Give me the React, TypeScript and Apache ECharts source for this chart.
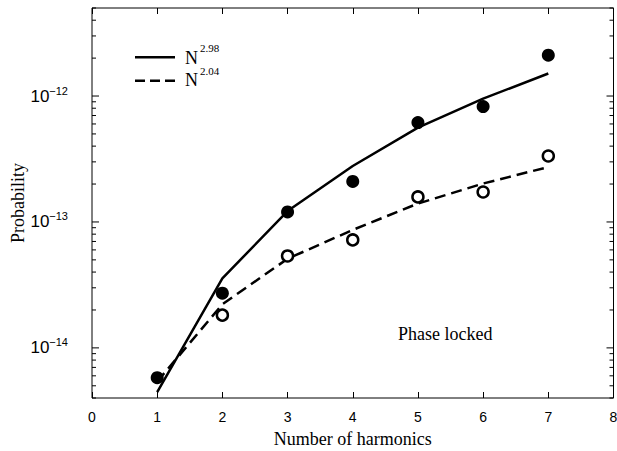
import React, { useEffect, useRef } from "react";
import * as echarts from "echarts";

// ---- data ----
const harmonics = [1, 2, 3, 4, 5, 6, 7];
const filledProb = [5.8e-15, 2.72e-14, 1.2e-13, 2.1e-13, 6.15e-13, 8.24e-13, 2.11e-12];
const openHarmonics = [2, 3, 4, 5, 6, 7];
const openProb = [1.82e-14, 5.37e-14, 7.2e-14, 1.58e-13, 1.73e-13, 3.34e-13];
const fitSolid = [4.45e-15, 3.56e-14, 1.22e-13, 2.78e-13, 5.61e-13, 9.53e-13, 1.51e-12];
const fitDashed = [5.4e-15, 2.22e-14, 5.1e-14, 8.65e-14, 1.4e-13, 2.02e-13, 2.73e-13];
const legendExponents = ["2.98", "2.04"];
const xMin = 0;
const xMax = 8;
const yMin = 4e-15;
const yMax = 5e-12;
const yDecades = [-15, -14, -13, -12];
const yMantissas = [1, 2, 3, 4, 5, 6, 7, 8, 9];

const SERIF = "'Liberation Serif', 'DejaVu Serif', serif";
const SANS = "'Liberation Sans', Arial, sans-serif";

function buildYTicks() {
  const out: number[][] = [];
  for (const d of yDecades) {
    for (const m of yMantissas) {
      const v = m * Math.pow(10, d);
      if (v >= yMin * 0.999 && v <= yMax * 1.001) out.push([xMin, v, m === 1 ? 1 : 0]);
    }
  }
  return out;
}

function isPow10(v: number) {
  const l = Math.log10(v);
  return Math.abs(l - Math.round(l)) < 1e-6;
}

export default function App() {
  const ref = useRef<HTMLDivElement>(null);
  useEffect(() => {
    if (!ref.current) return;
    const chart = echarts.init(ref.current, null, { renderer: "svg" });
    const option: any = {
      animation: false,
      backgroundColor: "#fff",
      grid: {
        left: 92,
        right: 3.5,
        top: 8,
        bottom: 53,
        containLabel: false,
        outerBoundsMode: "none",
        show: true,
        borderColor: "#000",
        borderWidth: 1,
        backgroundColor: "transparent",
      },
      xAxis: [
        {
          type: "value",
          min: xMin,
          max: xMax,
          interval: 1,
          position: "bottom",
          axisLine: { show: false },
          axisTick: { show: true, inside: true, length: 6, lineStyle: { color: "#000", width: 1 } },
          splitLine: { show: false },
          axisLabel: { color: "#000", fontFamily: SANS, fontSize: 14, margin: 12 },
          name: "Number of harmonics",
          nameLocation: "middle",
          nameGap: 32,
          nameMoveOverlap: false,
          nameTextStyle: { color: "#000", fontFamily: SERIF, fontSize: 18 },
        },
        {
          type: "value",
          min: xMin,
          max: xMax,
          interval: 1,
          position: "top",
          axisLine: { show: false },
          axisTick: { show: true, inside: true, length: 6, lineStyle: { color: "#000", width: 1 } },
          splitLine: { show: false },
          axisLabel: { show: false },
        },
      ],
      yAxis: {
        type: "log",
        logBase: 10,
        min: yMin,
        max: yMax,
        axisLine: { show: false },
        axisTick: { show: false },
        splitLine: { show: false },
        axisLabel: {
          margin: 24,
          formatter: (v: number) => {
            if (!isPow10(v)) return "";
            const e = Math.round(Math.log10(v));
            return "{b|10}{e|" + String(e).replace("-", "\u2212") + "}";
          },
          rich: {
            b: { fontFamily: SANS, fontSize: 17, color: "#000", lineHeight: 22 },
            e: { fontFamily: SANS, fontSize: 11, color: "#000", verticalAlign: "top", lineHeight: 10 },
          },
        },
        name: "Probability",
        nameLocation: "middle",
        nameGap: 65,
        nameMoveOverlap: false,
        nameTextStyle: { color: "#000", fontFamily: SERIF, fontSize: 18 },
      },
      graphic: [
        { type: "line", shape: { x1: 135, y1: 57.3, x2: 175, y2: 57.3 }, style: { stroke: "#000", lineWidth: 2.5 } },
        { type: "text", x: 185, y: 57.5, style: { text: "N", font: "18px " + SERIF, fill: "#000", verticalAlign: "middle", textVerticalAlign: "middle" } },
        { type: "text", x: 200, y: 47.5, style: { text: legendExponents[0], font: "11px " + SERIF, fill: "#000", verticalAlign: "middle", textVerticalAlign: "middle" } },
        { type: "line", shape: { x1: 135, y1: 80.7, x2: 175, y2: 80.7 }, style: { stroke: "#000", lineWidth: 2.5, lineDash: [10, 5] } },
        { type: "text", x: 185, y: 79.5, style: { text: "N", font: "18px " + SERIF, fill: "#000", verticalAlign: "middle", textVerticalAlign: "middle" } },
        { type: "text", x: 200, y: 71, style: { text: legendExponents[1], font: "11px " + SERIF, fill: "#000", verticalAlign: "middle", textVerticalAlign: "middle" } },
        { type: "text", x: 398, y: 334, style: { text: "Phase locked", font: "18px " + SERIF, fill: "#000", verticalAlign: "middle", textVerticalAlign: "middle" } },
      ],
      series: [
        {
          type: "custom",
          xAxisIndex: 0,
          yAxisIndex: 0,
          silent: true,
          clip: false,
          z: 5,
          data: buildYTicks(),
          renderItem: (params: any, api: any) => {
            const y = api.coord([xMin, api.value(1)])[1];
            const cs = params.coordSys;
            const len = api.value(2) === 1 ? 7 : 4;
            const st = { stroke: "#000", lineWidth: 1 };
            return {
              type: "group",
              children: [
                { type: "line", shape: { x1: cs.x, y1: y, x2: cs.x + len, y2: y }, style: st },
                { type: "line", shape: { x1: cs.x + cs.width, y1: y, x2: cs.x + cs.width - len, y2: y }, style: st },
              ],
            };
          },
        },
        {
          type: "line",
          data: harmonics.map((h, i) => [h, fitSolid[i]]),
          showSymbol: false,
          symbol: "none",
          lineStyle: { color: "#000", width: 2.5 },
          z: 2,
        },
        {
          type: "line",
          data: harmonics.map((h, i) => [h, fitDashed[i]]),
          showSymbol: false,
          symbol: "none",
          lineStyle: { color: "#000", width: 2.5, type: [11, 6] },
          z: 2,
        },
        {
          type: "scatter",
          data: harmonics.map((h, i) => [h, filledProb[i]]),
          symbol: "circle",
          symbolSize: 13,
          itemStyle: { color: "#000", opacity: 1 },
          z: 3,
        },
        {
          type: "scatter",
          data: openHarmonics.map((h, i) => [h, openProb[i]]),
          symbol: "circle",
          symbolSize: 11,
          itemStyle: { color: "#fff", borderColor: "#000", borderWidth: 2.5, opacity: 1 },
          z: 3,
        },
      ],
    };
    chart.setOption(option);
    return () => chart.dispose();
  }, []);
  return (
    <div
      ref={ref}
      style={{ position: "fixed", left: 0, top: 0, width: 617, height: 451 }}
    />
  );
}
